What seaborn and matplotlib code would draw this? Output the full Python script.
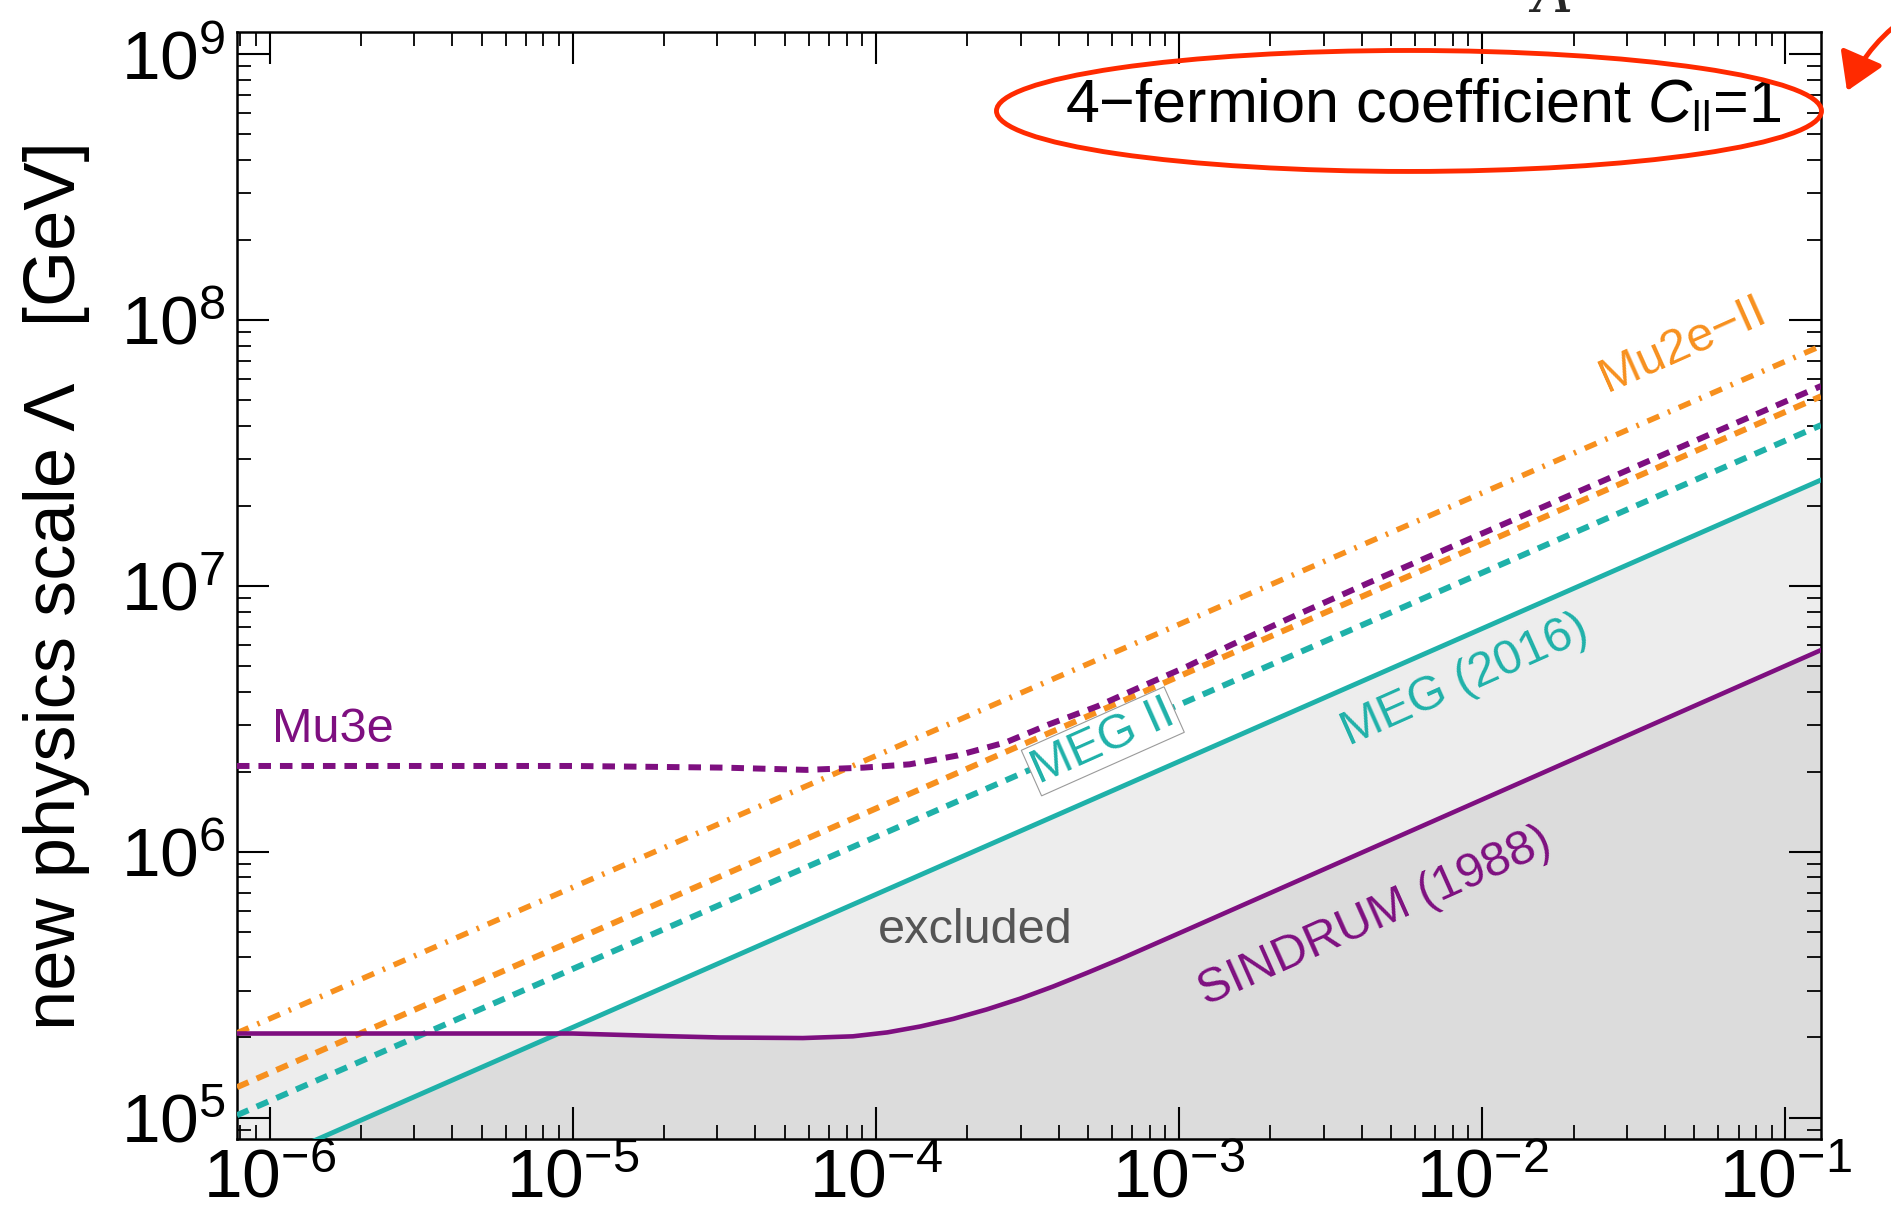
import numpy as np
import pandas as pd
import matplotlib
matplotlib.use('Agg')
import matplotlib.pyplot as plt
import seaborn as sns
from matplotlib.patches import Ellipse

# values (x: branching ratio axis, y: Lambda in GeV)
meg_x = [7.8e-7, 1.31e-1]          # MEG (2016), solid teal
meg_y = [6.1e4, 2.5e7]

meg2_x = [7.8e-7, 1.31e-1]         # MEG II, dashed teal
meg2_y = [1.02e5, 4.02e7]

mu2e_x = [7.8e-7, 1.31e-1]         # orange dashed
mu2e_y = [1.30e5, 5.16e7]

mu2e2_x = [7.8e-7, 1.31e-1]        # Mu2e-II, orange dash-dot
mu2e2_y = [2.08e5, 7.98e7]

sindrum_x = [7.8e-7, 1.0e-5, 1.8e-5, 3.05e-5, 5.74e-5, 8.39e-5, 1.09e-4, 1.40e-4, 1.80e-4,
             2.32e-4, 2.99e-4, 3.84e-4, 4.97e-4, 6.38e-4, 1.06e-3, 1.63e-3, 1.31e-1]
sindrum_y = [2.07e5, 2.07e5, 2.03e5, 2.00e5, 1.99e5, 2.02e5, 2.09e5, 2.20e5, 2.35e5,
             2.55e5, 2.80e5, 3.11e5, 3.50e5, 3.94e5, 5.08e5, 6.31e5, 5.73e6]

mu3e_x = [7.8e-7, 1.0e-5, 3.16e-5, 5.9e-5, 9.1e-5, 1.29e-4, 1.86e-4, 2.69e-4, 3.72e-4,
          5.37e-4, 7.59e-4, 1.07e-3, 1.48e-3, 2.45e-3, 4.17e-3, 1.31e-1]
mu3e_y = [2.10e6, 2.10e6, 2.07e6, 2.03e6, 2.07e6, 2.13e6, 2.30e6, 2.58e6, 3.01e6,
          3.52e6, 4.20e6, 4.99e6, 5.98e6, 7.78e6, 1.02e7, 5.64e7]

x_lim = (7.8e-7, 1.31e-1)
y_lim = (8.3e4, 1.21e9)

teal = '#1fb1a9'
purple = '#7e0f80'
orange = '#f7901e'
red = '#ff2a00'

sns.set_theme(style='ticks')
plt.rcParams['font.family'] = ['Liberation Sans', 'DejaVu Sans']
plt.rcParams['mathtext.fontset'] = 'custom'
plt.rcParams['mathtext.rm'] = 'Liberation Sans'
plt.rcParams['mathtext.it'] = 'Liberation Sans:italic'
plt.rcParams['mathtext.bf'] = 'Liberation Sans:bold'
plt.rcParams['mathtext.default'] = 'regular'

fig = plt.figure(figsize=(18.91, 12.22), dpi=100)
ax = fig.add_axes([0.1253, 0.0679, 0.963 - 0.1253, 0.9738 - 0.0679])
ax.set_xscale('log')
ax.set_yscale('log')

# excluded region: two translucent fills, overlap is darker
ax.fill_between(meg_x, 1e4, meg_y, color='k', alpha=0.08, lw=0, zorder=1)
ax.fill_between(sindrum_x, 1e4, sindrum_y, color='k', alpha=0.08, lw=0, zorder=1)


def draw(x, y, color, ls, lw):
    d = pd.DataFrame({'x': x, 'y': y})
    sns.lineplot(data=d, x='x', y='y', color=color, linestyle=ls, lw=lw,
                 ax=ax, sort=False, estimator=None, zorder=3)


dash = (0, (2.1, 1.5))
draw(mu2e2_x, mu2e2_y, orange, (0, (2.3, 1.7, 0.45, 1.7)), 4.0)
draw(mu2e_x, mu2e_y, orange, dash, 4.3)
draw(meg2_x, meg2_y, teal, dash, 4.3)
draw(mu3e_x, mu3e_y, purple, dash, 4.3)
draw(meg_x, meg_y, teal, '-', 3.5)
draw(sindrum_x, sindrum_y, purple, '-', 3.3)

ax.set_xlim(*x_lim)
ax.set_ylim(*y_lim)

# labels on the curves
lab = dict(fontsize=35, rotation_mode='anchor')
ax.text(1.015e-6, 2.58e6, 'Mu3e', color=purple, ha='left', va='baseline', **lab)
ax.text(2.12e-4, 4.54e5, 'excluded', color='#555555', ha='center', va='baseline', **lab)
ax.text(5.6e-4, 2.6e6, 'MEG II', color=teal, ha='center', va='center', rotation=24,
        bbox=dict(boxstyle='square,pad=0.05', fc='white', ec='#9a9a9a', lw=0.8), zorder=5, **lab)
ax.text(8.79e-3, 4.41e6, 'MEG (2016)', color=teal, ha='center', va='center', rotation=24, **lab)
ax.text(4.44e-3, 5.69e5, 'SINDRUM (1988)', color=purple, ha='center', va='center', rotation=24, **lab)
ax.text(4.57e-2, 8.1e7, 'Mu2e\u2212II', color=orange, ha='center', va='center', rotation=24, **lab)

ax.text(0.975, 0.918, '4\u2212fermion coefficient $\\mathit{C}_{\\mathrm{ll}}$=1', transform=ax.transAxes,
        ha='right', va='baseline', fontsize=44, color='black')

ax.set_xlabel('')
ax.set_ylabel('new physics scale \u039b   [GeV]', fontsize=52, color='black')
ax.yaxis.set_label_coords(-0.093, 0.5)

for s in ax.spines.values():
    s.set_color('black')
    s.set_linewidth(1.8)
ax.tick_params(which='both', direction='in', top=True, right=True, colors='black')
ax.tick_params(which='major', length=23, width=1.5, labelsize=50)
ax.tick_params(axis='y', which='major', pad=8)
ax.tick_params(axis='x', which='major', pad=6)
ax.tick_params(which='minor', length=10, width=1.3)

# red annotation: ellipse round the caption and arrow coming from outside
ell = Ellipse((0.7451, 0.9092), 0.4363, 0.099, transform=fig.transFigure, fill=False,
              ec=red, lw=3.5, clip_on=False, zorder=10)
fig.add_artist(ell)
ax.annotate('', xy=(1847 / 1891, 1 - 91 / 1222), xytext=(1.012, 1 - 12 / 1222),
            xycoords='figure fraction', textcoords='figure fraction',
            arrowprops=dict(arrowstyle='-|>,head_length=0.45,head_width=0.28', color=red, lw=3.5,
                            mutation_scale=50, shrinkA=0, shrinkB=0,
                            connectionstyle='arc3,rad=0.15'))
fig.text(0.821, 1 - 12 / 1222, '\u039b', ha='center', va='baseline', fontsize=40,
         family='DejaVu Serif', style='italic')

fig.savefig('out.png', dpi=100)
